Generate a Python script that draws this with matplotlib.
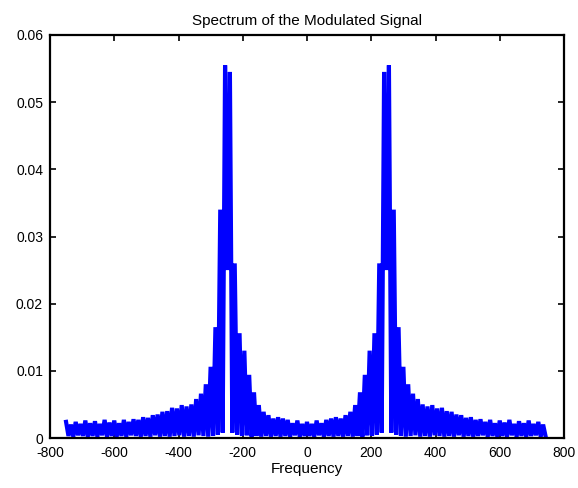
import numpy as np
import matplotlib
matplotlib.use("Agg")
import matplotlib.pyplot as plt
from matplotlib.ticker import FuncFormatter

# ---- data (positive-frequency half; spectrum is symmetric) ----
f_step = 7.5          # Hz between spectral samples
# magnitudes at f = 0, 15, 30, ..., 735 Hz (the "high" samples)
hi_pos = [0.0024, 0.0021, 0.0026, 0.0022, 0.0027, 0.0029, 0.0031, 0.0029, 0.0034, 0.0039,
          0.0049, 0.0068, 0.0094, 0.0130, 0.0156, 0.0260, 0.0545, 0.0555, 0.0340, 0.0165,
          0.0106, 0.0080, 0.0066, 0.0058, 0.0050, 0.0047, 0.0049, 0.0044, 0.0045, 0.0040,
          0.0039, 0.0035, 0.0034, 0.0030, 0.0031, 0.0027, 0.0028, 0.0024, 0.0027, 0.0022,
          0.0026, 0.0023, 0.0027, 0.0021, 0.0025, 0.0022, 0.0026, 0.0021, 0.0024, 0.0020]
# magnitudes at f = 7.5, 22.5, ..., 742.5 Hz (the "low" samples)
lo_pos = [0.0003, 0.0002, 0.0004, 0.0002, 0.0003, 0.0002, 0.0003, 0.0002, 0.0003, 0.0002,
          0.0003, 0.0002, 0.0004, 0.0003, 0.0005, 0.0008, 0.0250, 0.0008, 0.0005, 0.0003,
          0.0002, 0.0003, 0.0004, 0.0002, 0.0003, 0.0002, 0.0004, 0.0003, 0.0002, 0.0003,
          0.0002, 0.0004, 0.0002, 0.0003, 0.0002, 0.0003, 0.0004, 0.0002, 0.0003, 0.0002,
          0.0003, 0.0002, 0.0004, 0.0002, 0.0003, 0.0002, 0.0003, 0.0004, 0.0002, 0.0003]
edge_val = 0.0024     # magnitude at -750 Hz

title_text = "Spectrum of the Modulated Signal"
xlabel_text = "Frequency"
x_ticks = [-800, -600, -400, -200, 0, 200, 400, 600, 800]
y_ticks = [0, 0.01, 0.02, 0.03, 0.04, 0.05, 0.06]

# ---- assemble the two-sided spectrum ----
mag_pos = np.empty(2 * len(hi_pos))
mag_pos[0::2] = hi_pos
mag_pos[1::2] = lo_pos
f_pos = f_step * np.arange(len(mag_pos))
freq = np.concatenate([[-f_step * len(mag_pos)], -f_pos[1:][::-1], f_pos])
mag = np.concatenate([[edge_val], mag_pos[1:][::-1], mag_pos])

plt.rcParams['font.family'] = ['Liberation Sans', 'DejaVu Sans']
plt.rcParams['axes.unicode_minus'] = False

fig = plt.figure(figsize=(5.78, 4.88), dpi=100)
ax = fig.add_axes([50/578, 50/488, (564-50)/578, (438-35)/488])
ax.plot(freq, mag, color=(0, 0, 1), linewidth=3.0, solid_joinstyle='miter')

ax.set_xlim(-800, 800)
ax.set_ylim(0, 0.06)
ax.set_xticks(x_ticks)
ax.set_yticks(y_ticks)
ax.yaxis.set_major_formatter(FuncFormatter(lambda v, p: "0" if v == 0 else f"{v:g}"))
ax.tick_params(direction='in', top=True, right=True, length=4, width=1.2,
               labelsize=10, colors='black')
ax.tick_params(axis='x', pad=6)
ax.tick_params(axis='y', pad=5)
for s in ax.spines.values():
    s.set_linewidth(1.6)
ax.set_title(title_text, fontsize=11, pad=7)
ax.set_xlabel(xlabel_text, fontsize=11, labelpad=1)

fig.savefig("out.png", dpi=100)
